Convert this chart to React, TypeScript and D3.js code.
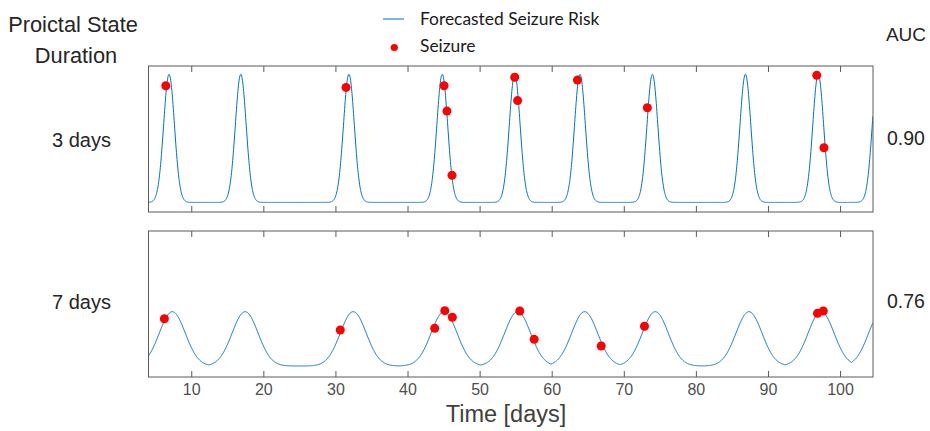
import React from "react";
import * as d3 from "d3";

// ---- data ----
const xTicks = [10, 20, 30, 40, 50, 60, 70, 80, 90, 100];
const timeDomain = [4, 104.5];

// Forecast risk peaks (days) and widths, per panel
const peaks3 = [6.85, 16.8, 31.8, 44.75, 54.8, 63.85, 73.9, 86.8, 96.9, 105.15];
const peaks7 = [7.3, 17.4, 32.4, 45.0, 55.2, 64.5, 74.3, 87.3, 97.3, 105.7];
const sigma3 = 0.75;
const sigma7 = 1.8;
const base3 = 0;
const amp3 = 1;
const base7 = 0.011;
const amp7 = 0.424;

// Seizures (day, risk value)
const seizureDays3 = [6.4, 31.4, 45.0, 45.4, 46.1, 54.8, 55.2, 63.5, 73.2, 96.7, 97.7];
const seizureRisk3 = [0.911, 0.898, 0.911, 0.713, 0.211, 0.977, 0.795, 0.955, 0.739, 0.992, 0.427];
const seizureDays7 = [6.2, 30.6, 43.7, 45.1, 46.15, 55.5, 57.5, 66.8, 72.8, 96.8, 97.6];
const seizureRisk7 = [0.38, 0.292, 0.305, 0.443, 0.391, 0.44, 0.219, 0.167, 0.321, 0.422, 0.44];

const durations = ["3 days", "7 days"];
const aucs = ["0.90", "0.76"];
const riskDomain = [-0.075, 1.065];

// ---- layout ----
const W = 930;
const H = 431;
const left = 148.5;
const right = 873;
const panels = [
  { top: 66, bottom: 212, labelY: 147, aucY: 145, peaks: peaks3, sigma: sigma3, base: base3, amp: amp3, sd: seizureDays3, sr: seizureRisk3 },
  { top: 231, bottom: 377, labelY: 309, aucY: 308, peaks: peaks7, sigma: sigma7, base: base7, amp: amp7, sd: seizureDays7, sr: seizureRisk7 },
];

const lineColor = "#0072BD";
const axisColor = "#5a5a5a";
const helv = "'Liberation Sans', Arial, Helvetica, sans-serif";
const legendFont = "Lato, 'Open Sans', sans-serif";

function riskAt(t: number, peaks: number[], sigma: number, base: number, amp: number) {
  let m = 0;
  for (const p of peaks) {
    const v = Math.exp(-((t - p) * (t - p)) / (2 * sigma * sigma));
    if (v > m) m = v;
  }
  return base + amp * m;
}

export default function App() {
  const x = d3.scaleLinear().domain(timeDomain).range([left, right]);
  const samples = d3.range(timeDomain[0], timeDomain[1] + 0.001, 0.04);

  return (
    <svg
      width={W}
      height={H}
      style={{ position: "absolute", left: 0, top: 0, background: "#fff" }}
      xmlns="http://www.w3.org/2000/svg"
    >
      <defs>
        {panels.map((p, i) => (
          <clipPath id={`clip${i}`} key={i}>
            <rect x={left} y={p.top} width={right - left} height={p.bottom - p.top} />
          </clipPath>
        ))}
      </defs>

      {/* Row headers */}
      <text x={73} y={32} textAnchor="middle" fontFamily={helv} fontSize={21.8} fill="#262626">
        Proictal State
      </text>
      <text x={76} y={63} textAnchor="middle" fontFamily={helv} fontSize={21.8} fill="#262626">
        Duration
      </text>
      <text x={906} y={41} textAnchor="middle" fontFamily={helv} fontSize={19} fill="#262626">
        AUC
      </text>

      {panels.map((p, i) => {
        const y = d3.scaleLinear().domain(riskDomain).range([p.bottom, p.top]);
        const line = d3
          .line<number>()
          .x((t) => x(t))
          .y((t) => y(riskAt(t, p.peaks, p.sigma, p.base, p.amp)));
        return (
          <g key={i}>
            <rect x={left} y={p.top} width={right - left} height={p.bottom - p.top} fill="#fff" />
            <g clipPath={`url(#clip${i})`}>
              <path d={line(samples) || ""} fill="none" stroke={lineColor} strokeWidth={1} />
              {p.sd.map((d, j) => (
                <circle key={j} cx={x(d)} cy={y(p.sr[j])} r={4.5} fill="#ff0000" />
              ))}
            </g>
            {xTicks.map((t) => (
              <g key={t} stroke={axisColor} strokeWidth={1}>
                <line x1={x(t)} x2={x(t)} y1={p.top} y2={p.top + 6} />
                <line x1={x(t)} x2={x(t)} y1={p.bottom} y2={p.bottom - 6} />
              </g>
            ))}
            <rect
              x={left}
              y={p.top}
              width={right - left}
              height={p.bottom - p.top}
              fill="none"
              stroke={axisColor}
              strokeWidth={1}
            />
            <text x={81.5} y={p.labelY} textAnchor="middle" fontFamily={helv} fontSize={20} fill="#262626">
              {durations[i]}
            </text>
            <text x={906} y={p.aucY} textAnchor="middle" fontFamily={helv} fontSize={19.5} fill="#262626">
              {aucs[i]}
            </text>
          </g>
        );
      })}

      {/* x tick labels */}
      {xTicks.map((t) => (
        <text key={t} x={x(t)} y={395} textAnchor="middle" fontFamily={helv} fontSize={16} fill="#505050">
          {t}
        </text>
      ))}
      <text x={506} y={422} textAnchor="middle" fontFamily={helv} fontSize={23.5} fill="#404040">
        Time [days]
      </text>

      {/* Legend */}
      <line x1={383} x2={404} y1={19} y2={19} stroke={lineColor} strokeWidth={1} />
      <text x={420} y={25} fontFamily={legendFont} fontSize={17.4} fill="#1a1a1a">
        Forecasted Seizure Risk
      </text>
      <circle cx={394.3} cy={47.5} r={3.6} fill="#ff0000" />
      <text x={420} y={52} fontFamily={legendFont} fontSize={17.4} fill="#1a1a1a">
        Seizure
      </text>
    </svg>
  );
}
